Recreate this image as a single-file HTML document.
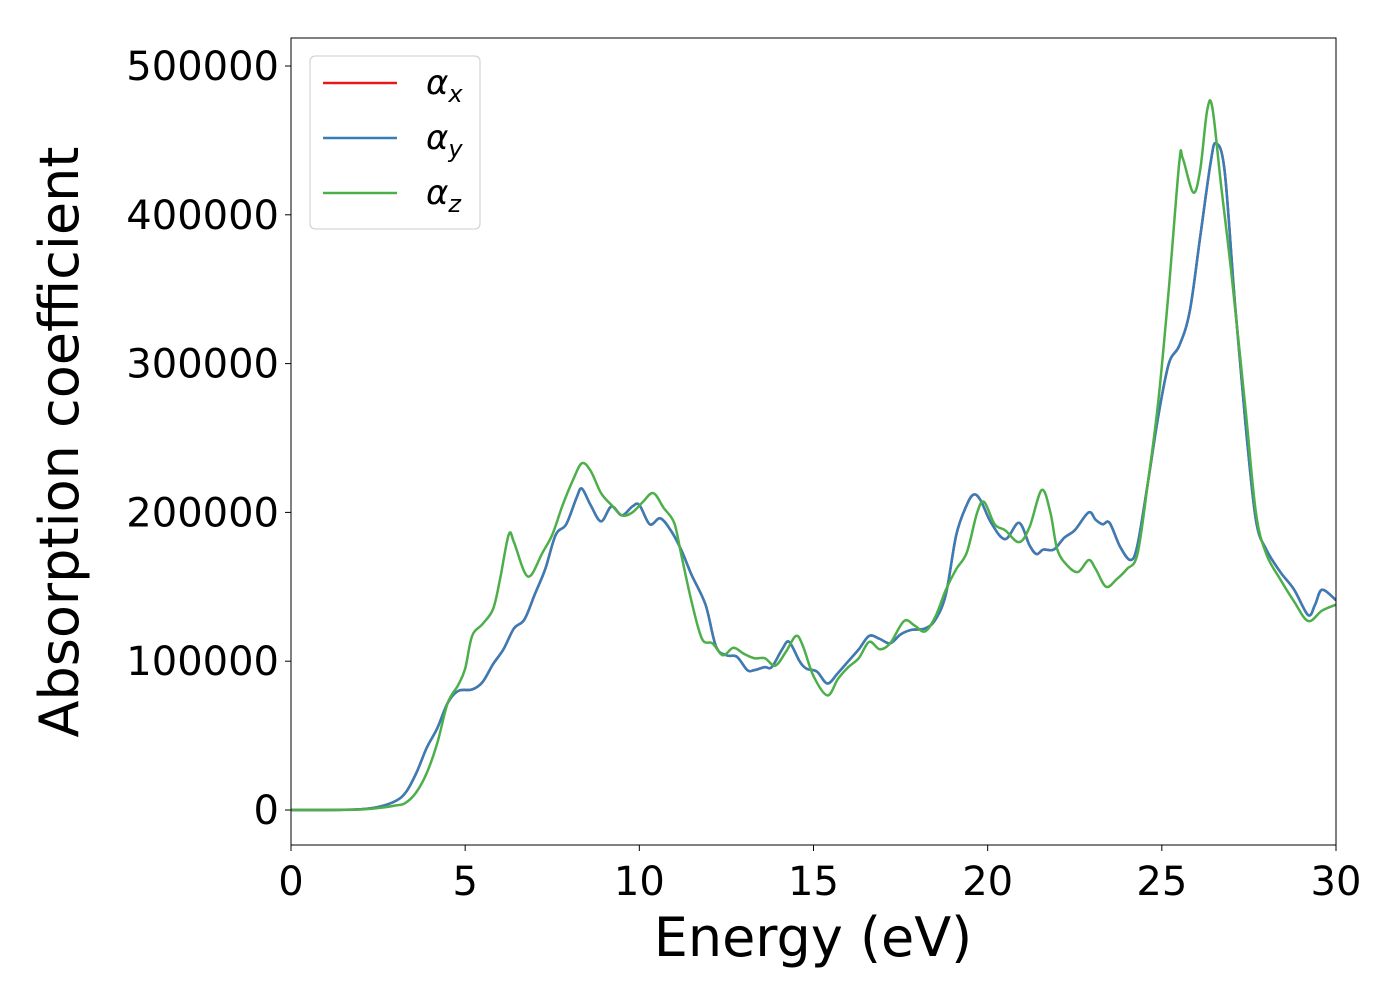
<!DOCTYPE html>
<html><head><meta charset="utf-8"><style>
body{margin:0;background:#fff}
text{font-family:"DejaVu Sans","Liberation Sans",sans-serif;fill:#000}
</style></head><body>
<svg id="chart" width="1400" height="1000" xmlns="http://www.w3.org/2000/svg">
<g id="plot"></g>
</svg>
<script>
const yxE=[0,1,2,2.5,3,3.3,3.6,3.9,4.2,4.5,4.8,5.2,5.5,5.8,6.1,6.4,6.7,7.0,7.3,7.6,7.9,8.2,8.35,8.6,8.9,9.2,9.5,9.8,10.0,10.3,10.6,10.9,11.2,11.5,11.9,12.2,12.5,12.8,13.1,13.3,13.6,13.8,14.1,14.3,14.6,14.8,15.1,15.4,15.7,16.0,16.3,16.6,16.9,17.2,17.5,17.8,18.2,18.5,18.8,19.1,19.4,19.6,19.8,20.1,20.5,20.9,21.2,21.4,21.6,21.9,22.2,22.5,22.9,23.1,23.3,23.5,23.8,24.1,24.3,24.6,24.9,25.2,25.5,25.8,26.1,26.4,26.55,26.8,27.1,27.4,27.7,28.0,28.4,28.8,29.2,29.4,29.6,30];
const yVals=[0,0,500,2000,6000,12000,25000,42000,55000,72000,80000,81000,86000,98000,108000,122000,128000,145000,162000,185000,192000,210000,216000,205000,194000,204000,198000,204000,205000,192000,196000,188000,175000,158000,138000,110000,104000,103000,94000,94000,96000,96000,108000,113000,100000,95000,93000,85000,92000,100000,108000,117000,115000,112000,118000,121000,122000,128000,145000,185000,205000,212000,208000,193000,182000,193000,178000,172000,175000,175000,183000,188000,200000,195000,192000,193000,177000,168000,178000,220000,265000,300000,312000,335000,385000,435000,448000,430000,340000,260000,195000,175000,160000,148000,131000,138000,148000,141000];
const xVals=yVals.slice();
const zE=[0,2,3,3.3,3.6,3.9,4.2,4.5,4.8,5.0,5.2,5.5,5.8,6.0,6.25,6.4,6.7,6.9,7.2,7.5,7.8,8.1,8.35,8.6,8.9,9.2,9.5,9.8,10.1,10.4,10.7,11.0,11.2,11.5,11.8,12.1,12.4,12.7,13.0,13.3,13.6,13.9,14.2,14.5,14.7,15.0,15.4,15.7,16.0,16.3,16.6,16.9,17.2,17.6,17.9,18.2,18.5,18.8,19.1,19.4,19.7,19.9,20.2,20.5,20.9,21.2,21.55,21.8,22.0,22.3,22.6,22.9,23.1,23.4,23.7,24.0,24.3,24.6,24.9,25.2,25.5,25.6,25.9,26.1,26.3,26.45,26.7,27.0,27.4,27.7,28.0,28.4,28.8,29.2,29.6,30];
const zVals=[0,300,3000,5000,12000,25000,45000,72000,84000,95000,117000,125000,135000,155000,185000,180000,160000,158000,172000,185000,205000,222000,233000,228000,213000,205000,198000,200000,207000,213000,203000,193000,172000,140000,115000,112000,104000,109000,105000,102000,102000,97000,106000,117000,110000,90000,77000,88000,96000,102000,113000,108000,112000,127000,124000,120000,130000,148000,162000,173000,200000,207000,192000,188000,180000,190000,215000,200000,175000,164000,160000,168000,162000,150000,155000,162000,172000,220000,275000,350000,435000,438000,415000,430000,470000,472000,420000,360000,270000,200000,172000,155000,140000,127000,134000,138000];
const xTicks=[0,5,10,15,20,25,30];
const yTicks=[0,100000,200000,300000,400000,500000];
const L=291,R=1336,T=38,B=845;
const X=e=>L+(e/30)*(R-L);
const Y=v=>810-(v/100000)*148.8;
const NS='http://www.w3.org/2000/svg';
const g=document.getElementById('plot');
function mk(t,a,p){const el=document.createElementNS(NS,t);for(const k in a)el.setAttribute(k,a[k]);(p||g).appendChild(el);return el;}
function path(E,V){const P=E.map((e,i)=>[X(e),Y(V[i])]);let d='M'+P[0][0]+','+P[0][1];
for(let i=0;i<P.length-1;i++){const p0=P[Math.max(0,i-1)],p1=P[i],p2=P[i+1],p3=P[Math.min(P.length-1,i+2)];
d+=' C'+(p1[0]+(p2[0]-p0[0])/6)+','+(p1[1]+(p2[1]-p0[1])/6)+' '+(p2[0]-(p3[0]-p1[0])/6)+','+(p2[1]-(p3[1]-p1[1])/6)+' '+p2[0]+','+p2[1];}return d;}
const clip=mk('clipPath',{id:'c'});mk('rect',{x:L,y:T,width:R-L,height:B-T},clip);
const sg=mk('g',{'clip-path':'url(#c)'});
let el;
el=mk('path',{d:path(yxE,xVals),fill:'none',stroke:'#e41a1c','stroke-width':2.5},sg);

el=mk('path',{d:path(yxE,yVals),fill:'none',stroke:'#377eb8','stroke-width':2.5},sg);

el=mk('path',{d:path(zE,zVals),fill:'none',stroke:'#4daf4a','stroke-width':2.5},sg);

el=mk('rect',{x:L,y:T,width:R-L,height:B-T,fill:'none',stroke:'#000','stroke-width':1});

xTicks.forEach(t=>{mk('line',{x1:X(t),x2:X(t),y1:B,y2:B+6,stroke:'#000'});
el=mk('text',{x:X(t),y:B+50,'text-anchor':'middle','font-size':40});el.textContent=t;
});
yTicks.forEach(t=>{mk('line',{x1:L-6,x2:L,y1:Y(t),y2:Y(t),stroke:'#000'});
el=mk('text',{x:L-12,y:Y(t)+14,'text-anchor':'end','font-size':40});el.textContent=t;
});
el=mk('text',{x:813,y:956,'text-anchor':'middle','font-size':54});el.textContent='Energy (eV)';

el=mk('text',{x:0,y:0,'text-anchor':'middle','font-size':54,transform:'translate(78,442) rotate(-90)'});el.textContent='Absorption coefficient';

const lg=mk('g',{});
mk('rect',{x:310,y:56,width:170,height:173,rx:5,fill:'#fff',stroke:'#ccc','fill-opacity':0.8},lg);
[['#e41a1c','x',83],['#377eb8','y',138],['#4daf4a','z',193]].forEach(([c,s,y])=>{
mk('line',{x1:323,x2:397,y1:y,y2:y,stroke:c,'stroke-width':2.5},lg);
const t=mk('text',{x:426,y:y+11,'font-size':34,'font-style':'italic'},lg);
t.innerHTML='α<tspan font-size="24" dy="8">'+s+'</tspan>';
});
</script>
</body></html>
